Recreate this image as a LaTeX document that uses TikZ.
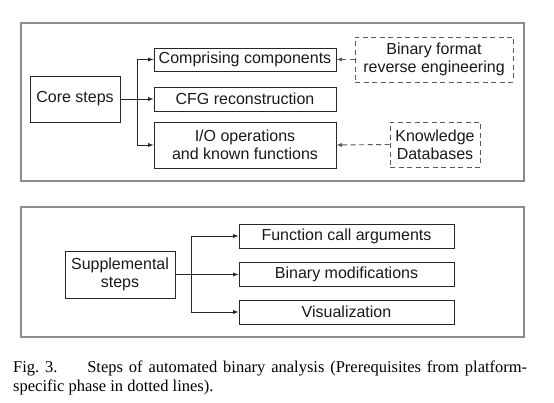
\documentclass[tikz,border=0pt]{standalone}
\usepackage{fontspec}
\setmainfont{Liberation Serif}
\setsansfont{Liberation Sans}
\usepackage{tikz}
\usetikzlibrary{arrows}

\tikzset{
  stepbox/.style={draw=black!85, line width=0.9pt, inner sep=0pt, align=center,
    font=\sffamily\fontsize{16}{18}\selectfont, text=black!90},
  prereq/.style={stepbox, dash pattern=on 5pt off 3.5pt, draw=black!65},
  frame/.style={draw=black!45, line width=1.4pt},
  link/.style={line width=0.9pt, draw=black!85, -latex},
  dlink/.style={link, dash pattern=on 5pt off 3.5pt, draw=black!65}
}

\begin{document}
\begin{tikzpicture}[x=1pt, y=-1pt]
  \useasboundingbox (0,0) rectangle (554,403);

  % Marcos exteriores
  \draw[frame] (21,23) rectangle (524,181);
  \draw[frame] (21,207) rectangle (524,337);

  % Pasos principales
  \node[stepbox, minimum width=90pt, minimum height=46pt] (core) at (75,99) {Core steps};
  \node[stepbox, minimum width=182pt, minimum height=23pt] (comp) at (245,59.5) {Comprising components};
  \node[stepbox, minimum width=182pt, minimum height=24pt] (cfg) at (245,99) {CFG reconstruction};
  \node[stepbox, minimum width=182pt, minimum height=46pt] (io) at (245,145) {I/O operations\\and known functions};

  % Requisitos previos (lineas discontinuas)
  \node[prereq, minimum width=158pt, minimum height=45pt] (binfmt) at (434,59.5) {Binary format\\reverse engineering};
  \node[prereq, minimum width=90pt, minimum height=45pt] (kdb) at (435,144.5) {Knowledge\\Databases};

  % Conexiones de los pasos principales
  \coordinate (corefork) at (137,99);
  \draw[link] (core.east) -- (cfg.west);
  \draw[link] (corefork) |- (comp.west);
  \draw[link] (corefork) |- (io.west);
  \draw[dlink] (binfmt.west) -- (comp.east);
  \draw[dlink] (kdb.west) -- (io.east);

  % Pasos suplementarios
  \node[stepbox, minimum width=110pt, minimum height=47pt] (supp) at (120,274.5) {Supplemental\\steps};
  \node[stepbox, minimum width=215pt, minimum height=24pt] (args) at (346.5,236) {Function call arguments};
  \node[stepbox, minimum width=215pt, minimum height=24pt] (mods) at (346.5,274.5) {Binary modifications};
  \node[stepbox, minimum width=215pt, minimum height=24pt] (vis) at (346.5,312) {Visualization};

  % Conexiones de los pasos suplementarios
  \coordinate (suppfork) at (191,274.5);
  \draw[link] (supp.east) -- (mods.west);
  \draw[link] (suppfork) |- (args.west);
  \draw[link] (suppfork) |- (vis.west);

  % Pie de figura
  \node[anchor=north west, inner sep=0pt, text width=514pt, align=justify,
    font=\fontsize{16.5}{19}\selectfont] (caption) at (13,361)
    {Fig.~3.\hspace{1.8em}Steps of automated binary analysis (Prerequisites from platform-\linebreak specific phase in dotted lines).};
\end{tikzpicture}
\end{document}
